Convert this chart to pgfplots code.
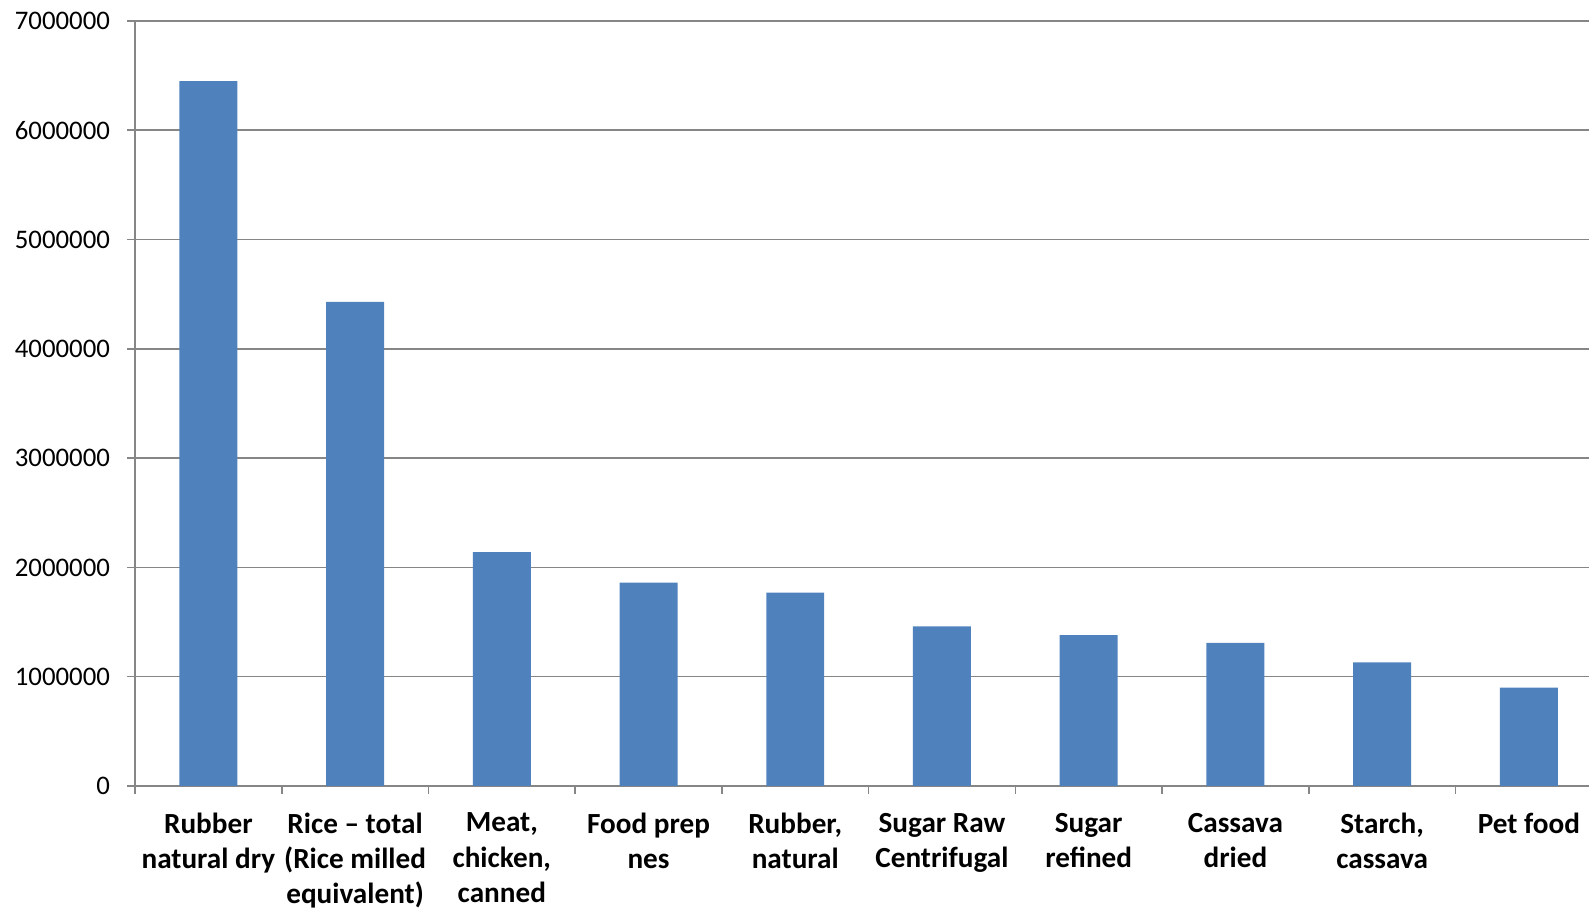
\documentclass[border=0pt]{standalone}
\usepackage{pgfplots}
\pgfplotsset{compat=1.18}
\usepackage{fontspec}
\setmainfont{Carlito}
\definecolor{barblue}{HTML}{4F81BD}
\definecolor{axgray}{HTML}{868686}
\begin{document}
\begin{tikzpicture}
\begin{axis}[
  scale only axis,
  width=727pt, height=382.5pt,
  xmin=-0.5, xmax=9.41,
  ymin=0, ymax=7000000,
  axis x line=bottom, axis y line=left,
  axis line style={axgray, line width=1pt, -},
  ytick={0,1000000,...,7000000},
  scaled y ticks=false,
  yticklabel style={/pgf/number format/fixed, /pgf/number format/1000 sep={}, font=\fontsize{13.4}{15}\selectfont, xshift=-5pt},
  /pgf/number format/assume math mode=true,
  ymajorgrids, grid style={axgray, line width=0.8pt},
  tick style={axgray, line width=0.8pt},
  tick align=outside,
  major tick length=4pt,
  xtick={-0.5,0.5,...,8.5},
  xticklabels={{Rubber\\natural dry},{Rice -- total\\(Rice milled\\equivalent)},{Meat,\\chicken,\\canned},{Food prep\\nes},{Rubber,\\natural},{Sugar Raw\\Centrifugal},{Sugar\\refined},{Cassava\\dried},{Starch,\\cassava},{Pet food}},
  xticklabel style={font=\fontsize{14.6}{17.6}\selectfont\bfseries, align=center, anchor=north, yshift=-6pt, xshift=36.68pt},
  ybar, bar width=0.395,
  clip=true,
]
\addplot[fill=barblue, draw=none] coordinates {
 (0,6450000) (1,4430000) (2,2140000) (3,1860000) (4,1770000)
 (5,1460000) (6,1380000) (7,1310000) (8,1130000) (9,900000)
};
\end{axis}
\pgfresetboundingbox
\path (current axis.south west) ++(-67.5pt,-62pt) coordinate (bl);
\path (current axis.north east) ++(0pt,10.5pt) coordinate (tr);
\path[use as bounding box] (bl) rectangle (tr);
\end{tikzpicture}
\end{document}
